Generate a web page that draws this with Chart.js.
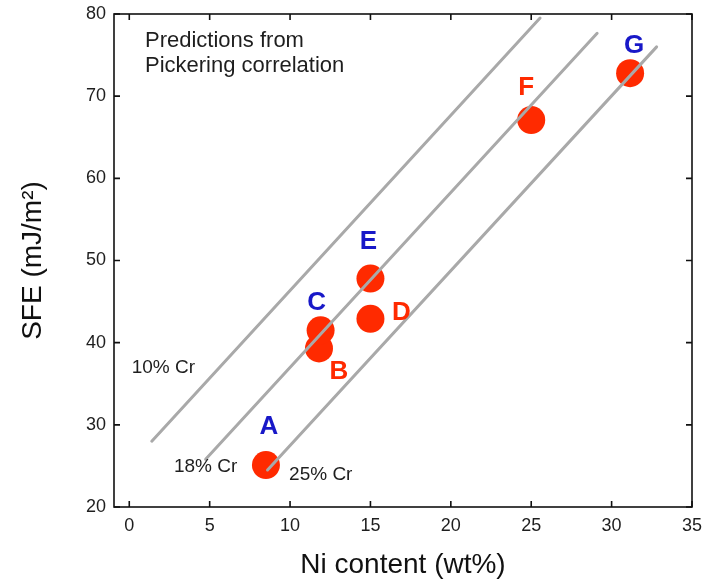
<!DOCTYPE html>
<html>
<head>
<meta charset="utf-8">
<script src="https://cdn.jsdelivr.net/npm/chart.js@4"></script>
<style>
  body { margin: 0; background: #fff; }
  canvas { display: block; }
</style>
</head>
<body>
<canvas id="sfeChart" width="706" height="584"></canvas>
<script>
// measured steels (Ni wt%, SFE mJ/m2)
const steelNames = ['A', 'B', 'C', 'D', 'E', 'F', 'G'];
const niContent = [8.5, 11.8, 11.9, 15.0, 15.0, 25.0, 31.15];
const sfeValues = [25.1, 39.3, 41.5, 42.9, 47.8, 67.1, 72.8];

// Pickering correlation lines, two end points each
const crNames = ['10% Cr', '18% Cr', '25% Cr'];
const crNi = [[1.4, 25.55], [4.75, 29.1], [8.6, 32.8]];
const crSfe = [[28.0, 79.5], [25.8, 77.65], [24.5, 76.0]];

const xTicks = [0, 5, 10, 15, 20, 25, 30, 35];
const yTicks = [20, 30, 40, 50, 60, 70, 80];

// label placement (px offset from the point) and colours
const letterOffsets = [[3, -38], [20, 23], [-4, -28], [31, -6], [-2, -37], [-5, -32], [4, -27]];
const blue = '#1818c8';
const red = '#ff2a00';
const letterColors = [blue, red, blue, red, blue, red, blue];
// Cr label anchors (data coords, left/baseline)
const crLabelPos = [[0.15, 36.3], [2.78, 24.3], [9.94, 23.3]];

const fontFamily = '"Liberation Sans", Arial, sans-serif';
const textColor = '#1e1e1e';

const lineSets = crNames.map((name, i) => ({
  label: name,
  data: crNi[i].map((x, j) => ({ x: x, y: crSfe[i][j] })),
  showLine: true,
  pointRadius: 0,
  borderColor: '#a9a9a9',
  borderWidth: 3,
  borderCapStyle: 'round',
  order: 0
}));

const pointSet = {
  label: 'steels',
  data: niContent.map((x, i) => ({ x: x, y: sfeValues[i] })),
  pointRadius: 14,
  pointBackgroundColor: red,
  pointBorderWidth: 0,
  order: 1
};

// frame with inward ticks on all four sides, plus text notes
const framePlugin = {
  id: 'frame',
  afterDraw(chart) {
    const c = chart.ctx;
    const a = chart.chartArea;
    const xs = chart.scales.x, ys = chart.scales.y;
    const tl = 6;
    c.save();
    c.strokeStyle = '#111';
    c.lineWidth = 1.6;
    c.strokeRect(a.left, a.top, a.right - a.left, a.bottom - a.top);
    c.beginPath();
    xTicks.forEach(v => {
      const px = xs.getPixelForValue(v);
      c.moveTo(px, a.bottom); c.lineTo(px, a.bottom - tl);
      c.moveTo(px, a.top); c.lineTo(px, a.top + tl);
    });
    yTicks.forEach(v => {
      const py = ys.getPixelForValue(v);
      c.moveTo(a.left, py); c.lineTo(a.left + tl, py);
      c.moveTo(a.right, py); c.lineTo(a.right - tl, py);
    });
    c.stroke();

    // letters
    c.font = 'bold 26px ' + fontFamily;
    c.textAlign = 'center';
    c.textBaseline = 'middle';
    steelNames.forEach((n, i) => {
      c.fillStyle = letterColors[i];
      c.fillText(n, xs.getPixelForValue(niContent[i]) + letterOffsets[i][0],
        ys.getPixelForValue(sfeValues[i]) + letterOffsets[i][1]);
    });

    // Cr labels
    c.font = '19px ' + fontFamily;
    c.textAlign = 'left';
    c.textBaseline = 'alphabetic';
    c.fillStyle = textColor;
    crNames.forEach((n, i) => {
      c.fillText(n, xs.getPixelForValue(crLabelPos[i][0]), ys.getPixelForValue(crLabelPos[i][1]));
    });

    // header note
    c.font = '22px ' + fontFamily;
    c.fillText('Predictions from', a.left + 31, a.top + 33);
    c.fillText('Pickering correlation', a.left + 31, a.top + 58);
    c.restore();
  }
};

const ctx = document.getElementById('sfeChart').getContext('2d');
const sfeChart = new Chart(ctx, {
  type: 'scatter',
  data: { datasets: [...lineSets, pointSet] },
  options: {
    responsive: false,
    animation: false,
    layout: { padding: { top: 14, right: 13, left: 0, bottom: 0 } },
    plugins: {
      legend: { display: false },
      tooltip: { enabled: false }
    },
    scales: {
      x: {
        type: 'linear',
        min: -0.95,
        max: 35,
        afterBuildTicks: s => { s.ticks = xTicks.map(v => ({ value: v })); },
        afterFit: s => { s.height = 77; s.paddingLeft = 0; s.paddingRight = 0; },
        grid: { display: false, drawTicks: false },
        border: { display: false },
        ticks: { padding: 8, color: textColor, font: { family: fontFamily, size: 18 } },
        title: {
          display: true,
          text: 'Ni content (wt%)',
          color: '#111',
          font: { family: fontFamily, size: 28 },
          padding: { top: 0, bottom: 2 }
        }
      },
      y: {
        type: 'linear',
        min: 20,
        max: 80,
        afterBuildTicks: s => { s.ticks = yTicks.map(v => ({ value: v })); },
        afterFit: s => { s.width = 114; s.paddingTop = 0; s.paddingBottom = 0; },
        grid: { display: false, drawTicks: false },
        border: { display: false },
        ticks: { padding: 8, color: textColor, font: { family: fontFamily, size: 18 } },
        title: {
          display: true,
          text: 'SFE (mJ/m²)',
          color: '#111',
          font: { family: fontFamily, size: 28 },
          padding: { top: 16, bottom: 0 }
        }
      }
    }
  },
  plugins: [framePlugin]
});
</script>
</body>
</html>
